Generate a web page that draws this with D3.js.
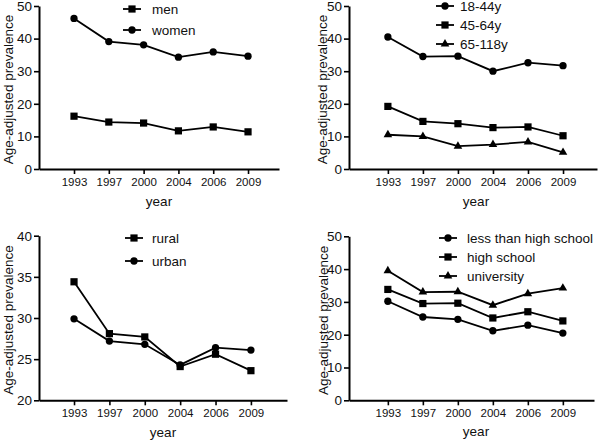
<!DOCTYPE html>
<html><head><meta charset="utf-8">
<script src="https://cdn.jsdelivr.net/npm/d3@7/dist/d3.min.js"></script>
<style>body{margin:0;background:#fff}svg{display:block;font-family:"Liberation Sans",Arial,sans-serif}</style>
</head><body><svg id="c" width="600" height="440"></svg>
<script>
const years = ["1993","1997","2000","2004","2006","2009"];
// panel 1: sex
const men   = [16.2, 14.4, 14.1, 11.7, 12.9, 11.4];
const women = [46.2, 39.1, 38.1, 34.3, 35.9, 34.6];
// panel 2: age
const age18_44  = [40.5, 34.5, 34.6, 30.0, 32.6, 31.7];
const age45_64  = [19.2, 14.6, 13.9, 12.7, 12.9, 10.2];
const age65_118 = [10.5, 10.0, 7.0, 7.5, 8.3, 5.1];
// panel 3: residence
const rural = [34.4, 28.1, 27.7, 24.1, 25.6, 23.6];
const urban = [29.9, 27.2, 26.8, 24.3, 26.4, 26.1];
// panel 4: education
const lessHS = [30.2, 25.4, 24.7, 21.2, 22.9, 20.5];
const highS  = [33.8, 29.5, 29.6, 25.1, 27.0, 24.2];
const univ   = [39.5, 33.0, 33.1, 29.0, 32.5, 34.2];
const yTicks1 = [0,10,20,30,40,50];
const yTicks3 = [20,25,30,35,40];

const panels = [
  {ax:39, y0:169, y1:6, xe:279, lo:-1.006, hi:5.89, yd:[0,50], yt:yTicks1,
   series:[{name:"men",v:men,m:"sq"},{name:"women",v:women,m:"ci"}],
   leg:{cx:132, tx:152, ys:[9,30]}, ylab:{x:8}, year:{x:159,y:201}},
  {ax:349, y0:169, y1:6, xe:597, lo:-1.11, hi:5.97, yd:[0,50], yt:yTicks1,
   series:[{name:"18-44y",v:age18_44,m:"ci"},{name:"45-64y",v:age45_64,m:"sq"},{name:"65-118y",v:age65_118,m:"tr"}],
   leg:{cx:445, tx:460, ys:[6,25,44]}, ylab:{x:322}, year:{x:476,y:201}},
  {ax:39, y0:400.3, y1:235.7, xe:287, lo:-0.99, hi:6.02, yd:[20,40], yt:yTicks3,
   series:[{name:"rural",v:rural,m:"sq"},{name:"urban",v:urban,m:"ci"}],
   leg:{cx:134, tx:152, ys:[238,261]}, ylab:{x:8}, year:{x:163,y:432}},
  {ax:349, y0:400.3, y1:236.3, xe:594, lo:-1.11, hi:5.89, yd:[0,50], yt:yTicks1,
   series:[{name:"less than high school",v:lessHS,m:"ci"},{name:"high school",v:highS,m:"sq"},{name:"university",v:univ,m:"tr"}],
   leg:{cx:448, tx:467, ys:[238,257,276]}, ylab:{x:323}, year:{x:476,y:431}}
];

const svg = d3.select("#c");
const sym = {sq: d3.symbol(d3.symbolSquare, 52), ci: d3.symbol(d3.symbolCircle, 42), tr: d3.symbol(d3.symbolTriangle, 32)};

panels.forEach(p => {
  const g = svg.append("g");
  const x = d3.scaleLinear().domain([p.lo, p.hi]).range([p.ax, p.xe]);
  const y = d3.scaleLinear().domain(p.yd).range([p.y0, p.y1]);
  const xa = g.append("g").attr("transform", `translate(0,${p.y0})`)
    .call(d3.axisBottom(x).tickValues(d3.range(years.length)).tickFormat(i => years[i]).tickSize(5).tickSizeOuter(0).tickPadding(4));
  xa.selectAll("text").attr("font-size", 11.5).attr("fill", "#111");
  const ya = g.append("g").attr("transform", `translate(${p.ax},0)`)
    .call(d3.axisLeft(y).tickValues(p.yt).tickSize(5).tickSizeOuter(0).tickPadding(2));
  ya.selectAll("text").attr("font-size", 13.5).attr("fill", "#111");
  [xa, ya].forEach(a => {
    a.select(".domain").attr("stroke", "#000").attr("stroke-width", 2);
    a.selectAll(".tick line").attr("stroke", "#000").attr("stroke-width", 1.6);
  });
  g.append("text").attr("transform", `translate(${p.ylab.x},${(p.y0 + p.y1) / 2 + 2}) rotate(-90)`)
    .attr("text-anchor", "middle").attr("dy", "0.35em").attr("font-size", 13.5).attr("fill", "#111")
    .text("Age-adjusted prevalence");
  g.append("text").attr("x", p.year.x).attr("y", p.year.y).attr("dy", "0.35em")
    .attr("text-anchor", "middle").attr("font-size", 13.5).attr("fill", "#111").text("year");
  const line = d3.line().x((d, i) => x(i)).y(d => y(d));
  p.series.forEach((s, k) => {
    g.append("path").attr("d", line(s.v)).attr("fill", "none").attr("stroke", "#000").attr("stroke-width", 1.8);
    g.selectAll(null).data(s.v).join("path")
      .attr("transform", (d, i) => `translate(${x(i)},${y(d)})`)
      .attr("d", sym[s.m]()).attr("fill", "#000");
    const ly = p.leg.ys[k];
    g.append("line").attr("x1", p.leg.cx - 9).attr("x2", p.leg.cx + 9).attr("y1", ly).attr("y2", ly)
      .attr("stroke", "#000").attr("stroke-width", 1.8);
    g.append("path").attr("transform", `translate(${p.leg.cx},${ly})`).attr("d", sym[s.m]()).attr("fill", "#000");
    g.append("text").attr("x", p.leg.tx).attr("y", ly).attr("dy", "0.35em").attr("font-size", 13.5)
      .attr("fill", "#111").text(s.name);
  });
});
</script></body></html>
